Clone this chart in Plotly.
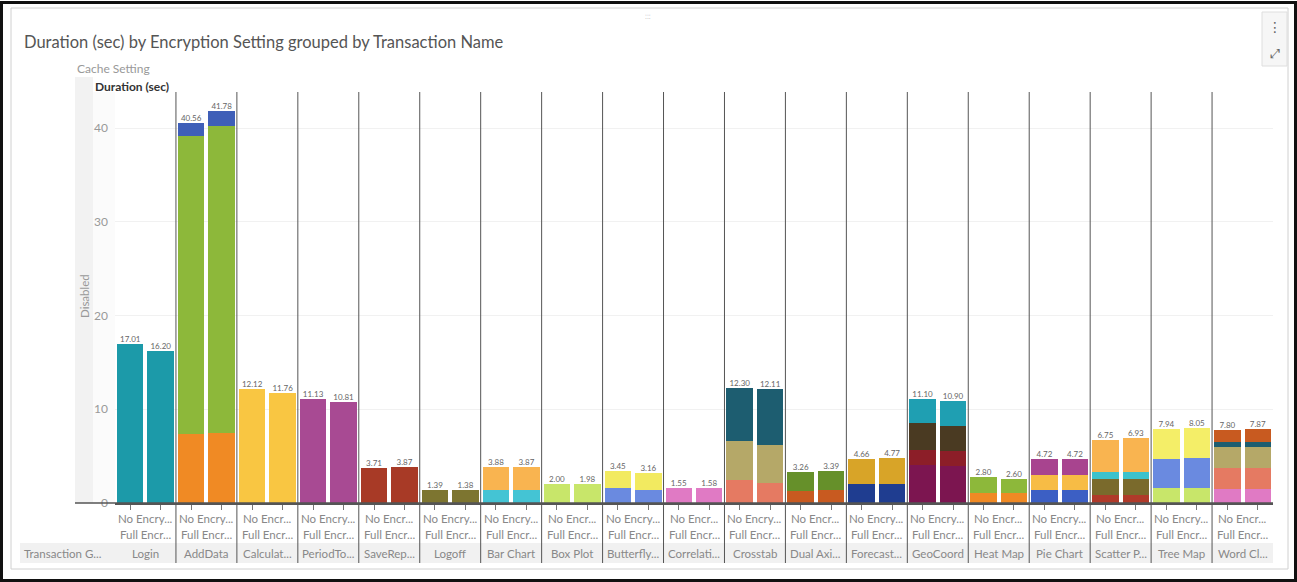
import plotly.graph_objects as go

# ---------------- data ----------------
transactions = ["Login", "AddData", "Calculat...", "PeriodTo...", "SaveRep...", "Logoff",
                "Bar Chart", "Box Plot", "Butterfly...", "Correlati...", "Crosstab",
                "Dual Axi...", "Forecast...", "GeoCoord", "Heat Map", "Pie Chart",
                "Scatter P...", "Tree Map", "Word Cl..."]
encryption = ["No Encryption", "Full Encryption"]
enc_label_no = ["No Encry...", "No Encry...", "No Encr...", "No Encry...", "No Encr...",
                "No Encry...", "No Encry...", "No Encr...", "No Encry...", "No Encr...",
                "No Encry...", "No Encr...", "No Encry...", "No Encry...", "No Encr...",
                "No Encry...", "No Encr...", "No Encry...", "No Encr..."]
enc_label_full = ["Full Encr..."] * 19

# stacked segments (bottom -> top), two bars per transaction (No, Full)
level1 = [17.01, 16.20, 7.40, 7.45, 12.12, 11.76, 11.13, 10.81, 3.71, 3.87,
          1.39, 1.38, 1.40, 1.40, 2.00, 1.98, 1.65, 1.35, 1.55, 1.58,
          2.45, 2.10, 1.30, 1.35, 2.00, 2.00, 4.10, 3.95, 1.10, 1.10,
          1.40, 1.40, 0.85, 0.85, 1.55, 1.60, 1.50, 1.50]
level2 = [None, None, 31.70, 32.75, None, None, None, None, None, None,
          None, None, 2.48, 2.47, None, None, 1.80, 1.81, None, None,
          4.15, 4.10, 1.96, 2.04, 2.66, 2.77, 1.55, 1.55, 1.70, 1.50,
          1.60, 1.60, 1.75, 1.75, 3.15, 3.25, 2.20, 2.20]
level3 = [None, None, 1.46, 1.58, None, None, None, None, None, None,
          None, None, None, None, None, None, None, None, None, None,
          5.70, 5.91, None, None, None, None, 2.85, 2.70, None, None,
          1.72, 1.72, 0.70, 0.70, 3.24, 3.20, 2.30, 2.30]
level4 = [None, None, None, None, None, None, None, None, None, None,
          None, None, None, None, None, None, None, None, None, None,
          None, None, None, None, None, None, 2.60, 2.70, None, None,
          None, None, 3.45, 3.63, None, None, 0.55, 0.55]
level5 = [None, None, None, None, None, None, None, None, None, None,
          None, None, None, None, None, None, None, None, None, None,
          None, None, None, None, None, None, None, None, None, None,
          None, None, None, None, None, None, 1.25, 1.32]
totals = [17.01, 16.20, 40.56, 41.78, 12.12, 11.76, 11.13, 10.81, 3.71, 3.87,
          1.39, 1.38, 3.88, 3.87, 2.00, 1.98, 3.45, 3.16, 1.55, 1.58,
          12.30, 12.11, 3.26, 3.39, 4.66, 4.77, 11.10, 10.90, 2.80, 2.60,
          4.72, 4.72, 6.75, 6.93, 7.94, 8.05, 7.80, 7.87]

# ---------------- styles ----------------
palettes = [
    ["#1c9aa9"],
    ["#f08a24", "#8db83a", "#3f5fb8"],
    ["#f9c642"],
    ["#a84a93"],
    ["#a83a26"],
    ["#7d7530"],
    ["#44c4d4", "#f9b450"],
    ["#c8e66a"],
    ["#6a8ae0", "#f2ea60"],
    ["#e07ac4"],
    ["#e57a62", "#b5a868", "#1d5d70"],
    ["#c85a20", "#66902a"],
    ["#1f3d90", "#d8a428"],
    ["#7c1550", "#8c1e28", "#4a3a22", "#1f9fb2"],
    ["#f08a24", "#8db83a"],
    ["#3c5fc4", "#f7bc45", "#a8448f"],
    ["#b03a2a", "#7a6a2c", "#3cc2cc", "#f9b450"],
    ["#c8e66a", "#6a8ae0", "#f4ee68"],
    ["#e07ac4", "#e57a62", "#b5a868", "#1d5d70", "#c85a20"],
]
FONT = "Lato"
W, H = 1297, 582
L, R, T, B = 115, 24, 92, 79
PW, PH = W - L - R, H - T - B


def px(x):
    return (x - L) / PW


def py(y):
    return (H - B - y) / PH


cats = [f"{t} | {e}" for t in transactions for e in encryption]
levels = [level1, level2, level3, level4, level5]

fig = go.Figure()
for li, lv in enumerate(levels):
    colors = []
    for gi in range(len(transactions)):
        pal = palettes[gi]
        c = pal[li] if li < len(pal) else "#ffffff"
        colors += [c, c]
    fig.add_trace(go.Bar(x=cats, y=lv, marker=dict(color=colors, line=dict(width=0)),
                         showlegend=False, hoverinfo="x+y"))

fig.add_trace(go.Scatter(x=cats, y=totals, mode="text",
                         text=[f"{v:.2f}" for v in totals], textposition="top center",
                         textfont=dict(family=FONT, size=8, color="#666"),
                         cliponaxis=False, showlegend=False, hoverinfo="skip"))

shapes = []
annotations = []

# outer frame and panel
shapes.append(dict(type="rect", xref="paper", yref="paper", x0=px(1.5), x1=px(1295.5),
                   y0=py(580.5), y1=py(2.5), line=dict(color="#111", width=3), layer="above"))
shapes.append(dict(type="rect", xref="paper", yref="paper", x0=px(11), x1=px(1288),
                   y0=py(569), y1=py(8), line=dict(color="#d0d0d0", width=1), layer="below"))
# left row header strip
shapes.append(dict(type="rect", xref="paper", yref="paper", x0=px(75), x1=px(93),
                   y0=py(503), y1=py(77), fillcolor="#f2f2f2", line=dict(width=0), layer="below"))
shapes.append(dict(type="rect", xref="paper", yref="paper", x0=px(93), x1=px(115),
                   y0=py(503), y1=py(92), fillcolor="#fbfbfb", line=dict(width=0), layer="below"))
# bottom transaction row band
shapes.append(dict(type="rect", xref="paper", yref="paper", x0=px(20), x1=px(1273),
                   y0=py(563), y1=py(543), fillcolor="#f1f1f1", line=dict(width=0), layer="below"))
# axis line extension
shapes.append(dict(type="line", xref="paper", yref="paper", x0=px(75), x1=1, y0=0, y1=0,
                   line=dict(color="#555", width=1.5)))
# group dividers
for gi in range(1, len(transactions)):
    xpos = 2 * gi - 0.5
    shapes.append(dict(type="line", xref="x", yref="paper", x0=xpos, x1=xpos,
                       y0=py(563), y1=1, line=dict(color="#555", width=1)))
# top-right icon box
shapes.append(dict(type="rect", xref="paper", yref="paper", x0=px(1262), x1=px(1287),
                   y0=py(66), y1=py(12), fillcolor="#f6f6f6", line=dict(color="#dedede", width=1),
                   layer="below"))

LBL = 11.5
# labels under bars
for gi, t in enumerate(transactions):
    xc = 2 * gi + 0.5
    annotations.append(dict(x=xc, y=py(518), xref="x", yref="paper", text=enc_label_no[gi],
                            showarrow=False, font=dict(family=FONT, size=LBL, color="#888"),
                            xanchor="center", yanchor="middle"))
    annotations.append(dict(x=xc, y=py(534), xref="x", yref="paper", text=enc_label_full[gi],
                            showarrow=False, font=dict(family=FONT, size=LBL, color="#888"),
                            xanchor="center", yanchor="middle"))
    annotations.append(dict(x=xc, y=py(553), xref="x", yref="paper", text=t,
                            showarrow=False, font=dict(family=FONT, size=LBL, color="#888"),
                            xanchor="center", yanchor="middle"))

annotations += [
    dict(x=px(22), y=py(553), xref="paper", yref="paper", text="Transaction G...",
         showarrow=False, xanchor="left", yanchor="middle",
         font=dict(family=FONT, size=LBL, color="#888")),
    dict(x=px(75), y=py(69), xref="paper", yref="paper", text="Cache Setting",
         showarrow=False, xanchor="left", yanchor="middle",
         font=dict(family=FONT, size=12, color="#999")),
    dict(x=px(93), y=py(86), xref="paper", yref="paper", text="<b>Duration (sec)</b>",
         showarrow=False, xanchor="left", yanchor="middle",
         font=dict(family=FONT, size=12, color="#333")),
    dict(x=px(84), y=py(296), xref="paper", yref="paper", text="Disabled", textangle=-90,
         showarrow=False, xanchor="center", yanchor="middle",
         font=dict(family=FONT, size=11.5, color="#999")),
    dict(x=px(1275), y=py(27), xref="paper", yref="paper", text="⋮",
         showarrow=False, xanchor="center", yanchor="middle",
         font=dict(family="DejaVu Sans", size=14, color="#666")),
    dict(x=px(1275), y=py(54), xref="paper", yref="paper", text="⤢",
         showarrow=False, xanchor="center", yanchor="middle",
         font=dict(family="DejaVu Sans", size=13, color="#666")),
    dict(x=px(648), y=py(16), xref="paper", yref="paper", text="⁚⁚⁚",
         showarrow=False, xanchor="center", yanchor="middle",
         font=dict(family="DejaVu Sans", size=6, color="#aaa")),
]

fig.update_layout(
    width=W, height=H,
    margin=dict(l=L, r=R, t=T, b=B, pad=0),
    paper_bgcolor="white", plot_bgcolor="rgba(0,0,0,0)",
    barmode="stack", bargap=0.13,
    title=dict(text="Duration (sec) by Encryption Setting grouped by Transaction Name",
               x=24 / W, xanchor="left", y=1 - 42 / H, yanchor="middle",
               font=dict(family=FONT, size=16.5, color="#555")),
    xaxis=dict(type="category", categoryorder="array", categoryarray=cats,
               showticklabels=False, ticks="outside", ticklen=5, tickcolor="#777",
               tickwidth=1, showline=True, linecolor="#555", linewidth=1.5,
               showgrid=False, zeroline=False, range=[-0.5, len(cats) - 0.5]),
    yaxis=dict(range=[0, PH / 9.375], tickvals=[0, 10, 20, 30, 40],
               tickfont=dict(family=FONT, size=12, color="#999"),
               showgrid=True, gridcolor="#f1f1f1", gridwidth=1, zeroline=False,
               showline=False, ticks="", ticklabelstandoff=6),
    shapes=shapes, annotations=annotations,
    font=dict(family=FONT),
)

fig.write_html("out.html")
